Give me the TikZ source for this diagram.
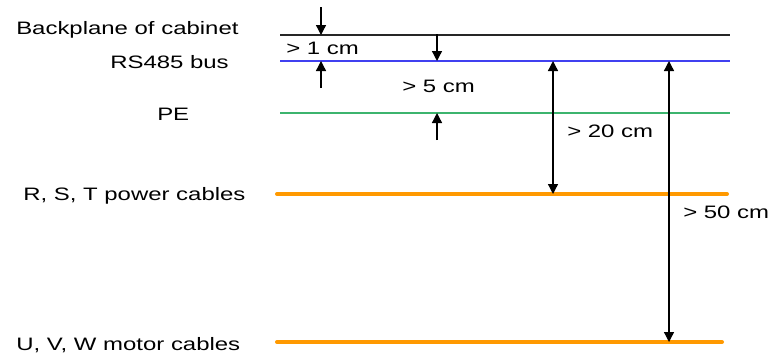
\documentclass[tikz,border=0pt]{standalone}
\usepackage{fontspec}
\setmainfont{Liberation Sans}
\usetikzlibrary{arrows.meta}
\definecolor{busblue}{RGB}{64,64,240}
\definecolor{pegreen}{RGB}{60,180,110}
\definecolor{cableorange}{RGB}{255,153,0}
\tikzset{
  lbl/.style={inner sep=0pt, anchor=base west, xscale=1.33, transform shape, font=\fontsize{18}{20}\selectfont},
  thinline/.style={line width=1.3pt},
  cable/.style={line width=4pt, cableorange, line cap=round},
  dim/.style={line width=1.3pt, -{Triangle[width=10pt,length=10pt]}},
  ddim/.style={line width=1.3pt, {Triangle[width=10pt,length=10pt]}-{Triangle[width=10pt,length=10pt]}},
}
\begin{document}
\begin{tikzpicture}[x=1pt,y=-1pt]
\useasboundingbox (0,0) rectangle (770,356);
% lines
\coordinate (bpL) at (280,35); \coordinate (bpR) at (730,35);
\coordinate (rsL) at (280,61); \coordinate (rsR) at (730,61);
\coordinate (peL) at (280,113); \coordinate (peR) at (730,113);
\coordinate (pcL) at (277,194); \coordinate (pcR) at (727,194);
\coordinate (mcL) at (277,342); \coordinate (mcR) at (722,342);
\draw[thinline, black!85] (bpL) -- (bpR);
\draw[thinline, busblue] (rsL) -- (rsR);
\draw[thinline, pegreen] (peL) -- (peR);
\draw[cable] (pcL) -- (pcR);
\draw[cable] (mcL) -- (mcR);
% labels
\node[lbl] (tbp) at (16,34) {Backplane of cabinet};
\node[lbl] (trs) at (110,68) {RS485 bus};
\node[lbl] (tpe) at (157,120) {PE};
\node[lbl] (tpc) at (23,200) {R, S, T power cables};
\node[lbl] (tmc) at (16,350) {U, V, W motor cables};
\node[lbl] (d1) at (286,54) {> 1 cm};
\node[lbl] (d5) at (402,92) {> 5 cm};
\node[lbl] (d20) at (567,137) {> 20 cm};
\node[lbl] (d50) at (683,218) {> 50 cm};
% dimension arrows
\coordinate (a1s) at (321,7);  \coordinate (a1e) at (321,35);
\coordinate (a2s) at (321,88); \coordinate (a2e) at (321,61);
\coordinate (a3s) at (437,34); \coordinate (a3e) at (437,61);
\coordinate (a4s) at (437,140); \coordinate (a4e) at (437,113);
\coordinate (a5s) at (553,61); \coordinate (a5e) at (553,194);
\coordinate (a6s) at (669,61); \coordinate (a6e) at (669,342);
\draw[dim] (a1s) -- (a1e);
\draw[dim] (a2s) -- (a2e);
\draw[dim] (a3s) -- (a3e);
\draw[dim] (a4s) -- (a4e);
\draw[ddim] (a5s) -- (a5e);
\draw[ddim] (a6s) -- (a6e);
\end{tikzpicture}
\end{document}
